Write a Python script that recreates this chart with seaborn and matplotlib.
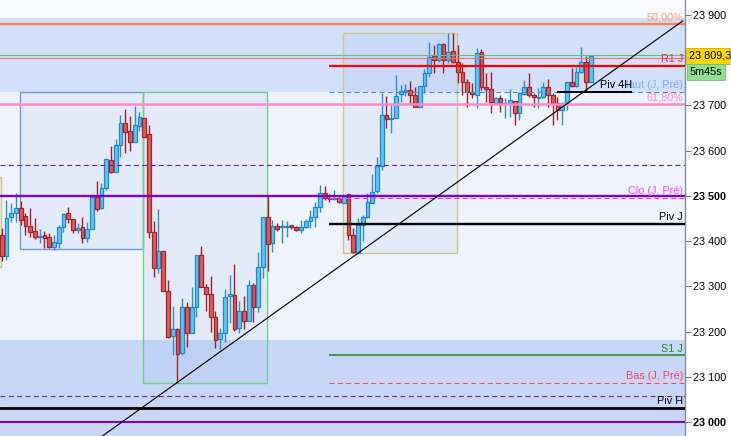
import numpy as np
import pandas as pd
import matplotlib
matplotlib.use("Agg")
import matplotlib.pyplot as plt
import matplotlib.transforms as mtransforms
from matplotlib.patches import Rectangle
import seaborn as sns

# ---------------- data ----------------
opens = [23413, 23367, 23453, 23462, 23473, 23456, 23433, 23422, 23409, 23413,
         23409, 23387, 23396, 23431, 23462, 23449, 23425, 23431, 23407, 23427,
         23498, 23473, 23517, 23579, 23553, 23613, 23661, 23644, 23619, 23655,
         23672, 23637, 23420, 23341, 23378, 23290, 23190, 23206, 23153, 23254,
         23197, 23254, 23369, 23299, 23283, 23232, 23184, 23197, 23279, 23281,
         23208, 23245, 23223, 23303, 23254, 23343, 23453, 23396, 23433, 23431,
         23431, 23436, 23431, 23425, 23431, 23445, 23453, 23475, 23506, 23495,
         23493, 23495, 23484, 23504, 23413, 23374, 23436, 23453, 23484, 23511,
         23566, 23679, 23670, 23672, 23725, 23730, 23734, 23723, 23697, 23743,
         23772, 23809, 23800, 23836, 23800, 23820, 23796, 23774, 23752, 23730,
         23723, 23818, 23741, 23736, 23705, 23716, 23703, 23705, 23710, 23683,
         23725, 23741, 23723, 23716, 23719, 23741, 23723, 23705, 23690, 23705,
         23752, 23743, 23774, 23796, 23752]
highs = [23429, 23491, 23484, 23506, 23489, 23462, 23473, 23451, 23427, 23422,
         23418, 23413, 23436, 23462, 23475, 23449, 23440, 23453, 23442, 23498,
         23533, 23528, 23582, 23610, 23626, 23679, 23692, 23677, 23699, 23686,
         23672, 23657, 23445, 23471, 23378, 23314, 23257, 23208, 23274, 23265,
         23299, 23369, 23389, 23305, 23323, 23245, 23208, 23294, 23325, 23349,
         23267, 23278, 23314, 23307, 23376, 23453, 23502, 23447, 23440, 23447,
         23445, 23436, 23433, 23447, 23449, 23469, 23486, 23524, 23522, 23504,
         23513, 23502, 23502, 23504, 23429, 23451, 23458, 23506, 23548, 23586,
         23728, 23721, 23701, 23767, 23745, 23747, 23754, 23741, 23743, 23781,
         23840, 23834, 23838, 23838, 23860, 23860, 23834, 23794, 23758, 23750,
         23827, 23825, 23772, 23774, 23719, 23723, 23716, 23736, 23710, 23730,
         23756, 23772, 23728, 23739, 23752, 23758, 23728, 23719, 23708, 23752,
         23783, 23785, 23829, 23809, 23812]
lows = [23356, 23358, 23442, 23442, 23436, 23413, 23409, 23404, 23396, 23385,
        23385, 23380, 23385, 23420, 23440, 23418, 23418, 23396, 23398, 23427,
        23467, 23471, 23513, 23551, 23553, 23586, 23595, 23599, 23619, 23644,
        23630, 23407, 23321, 23330, 23290, 23186, 23148, 23086, 23148, 23166,
        23197, 23232, 23299, 23245, 23199, 23164, 23161, 23177, 23219, 23201,
        23197, 23206, 23223, 23221, 23243, 23319, 23334, 23376, 23422, 23396,
        23409, 23427, 23422, 23418, 23429, 23429, 23431, 23464, 23491, 23486,
        23491, 23484, 23484, 23402, 23374, 23374, 23400, 23451, 23484, 23506,
        23557, 23650, 23639, 23672, 23708, 23721, 23703, 23697, 23697, 23728,
        23763, 23772, 23796, 23772, 23794, 23794, 23750, 23723, 23697, 23716,
        23695, 23734, 23708, 23683, 23705, 23686, 23672, 23675, 23657, 23668,
        23723, 23719, 23697, 23695, 23716, 23697, 23657, 23668, 23657, 23690,
        23741, 23741, 23772, 23730, 23752]
closes = [23367, 23451, 23462, 23473, 23447, 23433, 23420, 23409, 23411, 23407,
          23387, 23398, 23431, 23460, 23449, 23425, 23429, 23407, 23427, 23498,
          23471, 23517, 23582, 23553, 23613, 23661, 23641, 23619, 23657, 23675,
          23630, 23420, 23341, 23378, 23290, 23188, 23206, 23150, 23254, 23197,
          23254, 23369, 23299, 23283, 23232, 23181, 23197, 23276, 23283, 23206,
          23245, 23223, 23303, 23254, 23343, 23453, 23394, 23433, 23427, 23433,
          23433, 23431, 23425, 23431, 23445, 23453, 23475, 23506, 23495, 23493,
          23495, 23486, 23500, 23413, 23376, 23436, 23453, 23486, 23509, 23566,
          23679, 23670, 23672, 23721, 23732, 23734, 23723, 23697, 23743, 23772,
          23807, 23800, 23836, 23800, 23818, 23796, 23774, 23752, 23730, 23725,
          23816, 23741, 23736, 23708, 23716, 23705, 23705, 23712, 23683, 23728,
          23741, 23723, 23719, 23719, 23741, 23723, 23705, 23690, 23705, 23752,
          23743, 23774, 23796, 23752, 23809]

yticks = [23000, 23100, 23200, 23300, 23400, 23500, 23600, 23700, 23900]
bold_ticks = [23000, 23500]
last_price = 23809.3
last_price_label = "23 809,3"
timer_label = "5m45s"

# full-width horizontal levels
full_levels = [23880, 23811, 23805, 23703, 23568, 23500, 23058, 23030, 22999]
full_colors = ["#ff7f45", "#5cc85c", "#f07070", "#ff88c8", "#6a18b8", "#8000c0",
               "#7a10c8", "#000000", "#8000c0"]
full_widths = [1.7, 0.8, 0.8, 1.8, 0.8, 1.7, 0.8, 2.0, 1.5]
full_styles = ["-", "-", "-", "-", "d", "-", "d", "-", "-"]

# daily levels (start at the day's first candle)
day_start = 69.9
day_levels = [23787, 23730, 23495, 23438, 23147, 23087]
day_colors = ["#ff0000", "#3590f0", "#ff30ff", "#000000", "#1e8a1e", "#ff4060"]
day_widths = [1.6, 0.8, 0.8, 1.7, 1.1, 0.8]
day_styles = ["-", "d", "d", "-", "-", "d"]

# 4H pivot segment
piv4h_level = 23730
piv4h_x = [117.9, 133.7]

# level labels
label_texts = ["50,00%", "R1 J", "Haut (J, Pré)", "61,80%", "Clo (J, Pré)",
               "Piv J", "S1 J", "Bas (J, Pré)", "Piv H"]
label_levels = [23880, 23787, 23730, 23703, 23495, 23438, 23147, 23087, 23030]
label_colors = ["#ff9a72", "#e8304a", "#7ab0f0", "#ff88c8", "#ff40ff",
                "#000000", "#208a20", "#ff4060", "#000000"]

# background zones
zone_lo = [23894, 23730, 22900]
zone_hi = [24000, 23894, 23181]
zone_colors = ["#f8fafe", "#d3e0fb", "#c8d7f8"]

# rectangles
rect_x0 = [4.85, 30.75, 72.9, -5.0]
rect_x1 = [30.75, 56.85, 96.9, 0.85]
rect_lo = [23383, 23086, 23374, 23343]
rect_hi = [23730, 23730, 23860, 23542]
rect_edges = ["#6f98e0", "#6fcf7f", "#cfc585", "#cfc585"]

# trend line anchors
trend_x = [22.2, 144.4]
trend_y = [22969, 23887]

# ---------------- style ----------------
sns.set_theme(style="white")
plt.rcParams["font.family"] = ["Liberation Sans", "DejaVu Sans"]
plt.rcParams["lines.scale_dashes"] = False

fig = plt.figure(figsize=(7.31, 4.36), dpi=100)
fig.patch.set_facecolor("white")
ax = fig.add_axes([0, 0, 685 / 731, 1])
ax.set_facecolor("#eef3fd")

XMIN, XMAX = 0.64, 144.85
YMIN, YMAX = 22969, 23933

for lo, hi, c in zip(zone_lo, zone_hi, zone_colors):
    ax.axhspan(lo, hi, color=c, lw=0, zorder=0)

for x0, x1, lo, hi, ec in zip(rect_x0, rect_x1, rect_lo, rect_hi, rect_edges):
    ax.add_patch(Rectangle((x0, lo), x1 - x0, hi - lo, facecolor="#5a88e8",
                           alpha=0.07, edgecolor="none", zorder=1))
    ax.add_patch(Rectangle((x0, lo), x1 - x0, hi - lo, facecolor="none",
                           edgecolor=ec, lw=1.0, zorder=1.2))

# candles
df = pd.DataFrame(dict(x=np.arange(1, len(opens) + 1), o=opens, h=highs,
                       l=lows, c=closes))
df["up"] = df["c"] >= df["o"]
up = df[df["up"]]
dn = df[~df["up"]]
ax.vlines(up["x"], up["l"], up["h"], color="#2a8fd4", lw=1.0, zorder=3)
ax.vlines(dn["x"], dn["l"], dn["h"], color="#a81e1e", lw=1.0, zorder=3)
ax.bar(up["x"], np.maximum((up["c"] - up["o"]).abs(), 1.8),
       bottom=np.minimum(up["o"], up["c"]), width=0.8,
       color="#5cc6f7", edgecolor="#1f88d0", lw=0.9, zorder=3.5)
ax.bar(dn["x"], np.maximum((dn["c"] - dn["o"]).abs(), 1.8),
       bottom=np.minimum(dn["o"], dn["c"]), width=0.8,
       color="#e05a5a", edgecolor="#a82424", lw=0.9, zorder=3.5)

def ls(s):
    return (0, (3.6, 2.4)) if s == "d" else "-"

for y, c, w, s in zip(full_levels, full_colors, full_widths, full_styles):
    ax.axhline(y, color=c, lw=w, ls=ls(s), zorder=4)
for y, c, w, s in zip(day_levels, day_colors, day_widths, day_styles):
    ax.hlines(y, day_start, XMAX, color=c, lw=w, ls=ls(s), zorder=4)
ax.hlines(piv4h_level, piv4h_x[0], piv4h_x[1], color="#000000", lw=1.4, zorder=4.2)

sns.lineplot(x=trend_x, y=trend_y, ax=ax, color="#111111", lw=0.9, zorder=4.5)

trans = mtransforms.blended_transform_factory(ax.transAxes, ax.transData)
FS = 7.8
for t, y, c in zip(label_texts, label_levels, label_colors):
    ax.annotate(t, xy=(0.997, y), xycoords=trans, xytext=(0, 5),
                textcoords="offset points", ha="right", va="center",
                color=c, fontsize=FS, zorder=6)
ax.annotate("Piv 4H", xy=(piv4h_x[1], piv4h_level), xycoords="data",
            xytext=(0, 5), textcoords="offset points", ha="right", va="center",
            color="#000000", fontsize=FS, zorder=6.5)

ax.set_xlim(XMIN, XMAX)
ax.set_ylim(YMIN, YMAX)
ax.set_xticks([])
ax.yaxis.tick_right()
ax.set_yticks(yticks)
ax.set_yticklabels([f"{v:,}".replace(",", " ") for v in yticks])
for lab, v in zip(ax.get_yticklabels(), yticks):
    if v in bold_ticks:
        lab.set_fontweight("bold")
ax.tick_params(axis="y", direction="out", length=4, width=0.8, color="#6a7a8a",
               labelsize=FS, pad=2, labelcolor="#000000", right=True, left=False)
ax.set_ylabel("")
ax.set_xlabel("")
for side in ["left", "top", "bottom"]:
    ax.spines[side].set_visible(False)
ax.spines["right"].set_visible(True)
ax.spines["right"].set_color("#7d8ea0")
ax.spines["right"].set_linewidth(1.0)

ax.text(1.006, last_price, last_price_label, transform=trans, ha="left",
        va="center", fontsize=FS, color="#000000", clip_on=False, zorder=10,
        bbox=dict(boxstyle="square,pad=0.25", fc="#ffd700", ec="#d8a800", lw=0.6))
ax.annotate(timer_label, xy=(1.0, last_price), xycoords=trans, xytext=(3.5, -11.5),
            textcoords="offset points", ha="left", va="center", fontsize=FS,
            color="#000000", annotation_clip=False, zorder=10,
            bbox=dict(boxstyle="square,pad=0.25", fc="#90e090", ec="#70c070", lw=0.6))

fig.savefig("out.png", dpi=100, facecolor="white")
